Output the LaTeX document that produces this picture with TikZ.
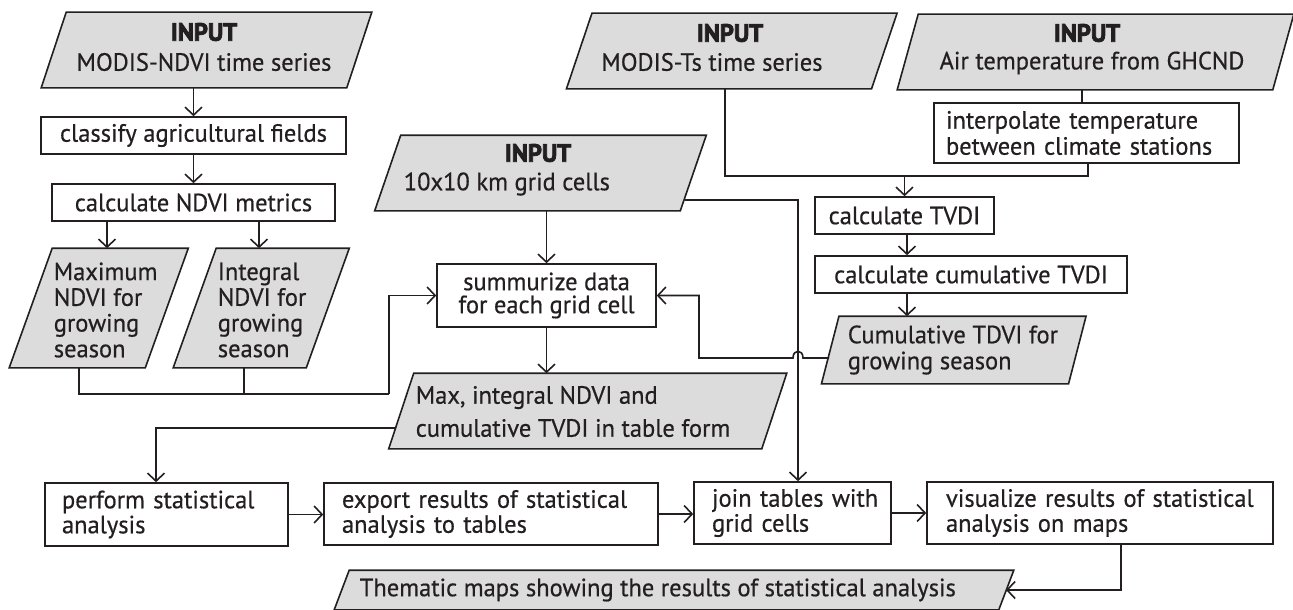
\documentclass[tikz,border=0pt]{standalone}
\usepackage{fontspec}
\setmainfont{PT Sans}[FakeStretch=0.98, UprightFeatures={FakeBold=0.5}, BoldFeatures={FakeBold=3}]
\usetikzlibrary{arrows.meta,calc}
\definecolor{inkc}{HTML}{231F20}
\definecolor{parafill}{HTML}{DCDCDC}
\newcommand\drawpara[2]{\path[para] ([xshift=#2]#1.north west) -- ([xshift=#2]#1.north east) -- ([xshift=-#2]#1.south east) -- ([xshift=-#2]#1.south west) -- cycle;}
\tikzset{
 rbox/.style={draw, fill=white, inner sep=0pt, line width=1.6pt},
 pbody/.style={inner sep=0pt, draw=none},
 para/.style={fill=parafill, draw, line width=1.6pt, line join=miter},
 lbl/.style={inner sep=0pt, align=left, anchor=west},
 clbl/.style={inner sep=0pt, align=center},
 ttl/.style={inner sep=0pt, font=\fontsize{25}{25}\selectfont\bfseries},
 arr/.style={-{Straight Barb[length=8pt,width=17pt]}},
}
\begin{document}
\begin{tikzpicture}[x=1pt,y=-1pt,line width=1.6pt,color=inkc,font=\fontsize{25}{25}\selectfont]
\useasboundingbox (0,0) rectangle (1293,610);
% parallelogram bodies
\node[pbody, minimum width=304pt, minimum height=74pt] (ndvi) at (206.5,50) {};
\node[pbody, minimum width=134.5pt, minimum height=118pt] (maxndvi) at (98.75,308) {};
\node[pbody, minimum width=131.5pt, minimum height=118pt] (intndvi) at (261.25,308) {};
\node[pbody, minimum width=304pt, minimum height=74pt] (grid) at (540.5,173) {};
\node[pbody, minimum width=303.5pt, minimum height=74pt] (tsin) at (731.75,51) {};
\node[pbody, minimum width=374pt, minimum height=74pt] (airin) at (1095.5,52) {};
\node[pbody, minimum width=245.5pt, minimum height=66pt] (cumpara) at (953.75,350) {};
\node[pbody, minimum width=371.5pt, minimum height=74pt] (maxint) at (587.75,411) {};
\node[pbody, minimum width=663pt, minimum height=38pt] (thematic) at (674,590) {};
\drawpara{ndvi}{12.5pt}
\drawpara{maxndvi}{21.5pt}
\drawpara{intndvi}{21.5pt}
\drawpara{grid}{13pt}
\drawpara{tsin}{12.75pt}
\drawpara{airin}{10.5pt}
\drawpara{cumpara}{8.75pt}
\drawpara{maxint}{12.5pt}
\drawpara{thematic}{7.5pt}
% parallelogram texts
\node[ttl] (ndviA) at (204,32) {INPUT};
\node[clbl] (ndviB) at (204,62) {MODIS-NDVI time series};
\node[ttl] (tsinA) at (730,33) {INPUT};
\node[clbl] (tsinB) at (712,62) {MODIS-Ts time series};
\node[ttl] (airinA) at (1087,33) {INPUT};
\node[clbl] (airinB) at (1092,63) {Air temperature from GHCND};
\node[ttl] (gridA) at (538,153) {INPUT};
\node[lbl] (gridB) at (403,184) {10x10 km grid cells};
\node[lbl, font=\fontsize{25}{25.7}\selectfont] (maxndviT) at (53,310) {Maximum\\NDVI for\\growing\\season};
\node[lbl, font=\fontsize{25}{25.7}\selectfont] (intndviT) at (217,310) {Integral\\NDVI for\\growing\\season};
\node[lbl, font=\fontsize{25}{26}\selectfont] (cumparaT) at (847,350) {Cumulative TDVI for\\growing season};
\node[lbl, font=\fontsize{25}{33}\selectfont] (maxintT) at (415,411.5) {Max, integral NDVI and\\cumulative TVDI in table form};
\node[lbl] (thematicT) at (359,590) {Thematic maps showing the results of statistical analysis};
% boxes
\node[rbox, minimum width=305pt, minimum height=37pt] (classify) at (193.5,135.5) {classify agricultural fields};
\node[rbox, minimum width=283pt, minimum height=37pt] (metrics) at (193.5,202.5) {calculate NDVI metrics};
\node[rbox, minimum width=219pt, minimum height=63pt, align=center, font=\fontsize{25}{23}\selectfont] (summ) at (546.5,295.5) {summurize data\\for each grid cell};
\node[rbox, text width=281pt, inner xsep=12pt, minimum height=60pt, align=left, font=\fontsize{25}{26}\selectfont] (interp) at (1086.5,133) {\mbox{interpolate temperature}\\\mbox{between climate stations}};
\node[rbox, minimum width=179pt, minimum height=37pt] (tvdi) at (904.5,215.5) {calculate TVDI};
\node[rbox, minimum width=312pt, minimum height=37pt] (cumtvdi) at (971,274.5) {calculate cumulative TVDI};
\node[rbox, text width=209pt, inner xsep=17pt, minimum height=63pt, align=left] (perform) at (166.5,514.5) {\mbox{perform statistical}\\\mbox{analysis}};
\node[rbox, text width=298pt, inner xsep=18pt, minimum height=62pt, align=left] (export) at (491,514) {\mbox{export results of statistical}\\\mbox{analysis to tables}};
\node[rbox, text width=161pt, inner xsep=18pt, minimum height=62pt, align=left] (join) at (792.5,513) {\mbox{join tables with}\\\mbox{grid cells}};
\node[rbox, text width=308pt, inner xsep=19pt, minimum height=62pt, align=left] (visual) at (1100,513) {\mbox{visualize results of statistical}\\\mbox{analysis on maps}};
% helper coordinates
\coordinate (xA) at (107,0);
\coordinate (xB) at (259,0);
\coordinate (xC) at (79,0);
\coordinate (xD) at (244,0);
\coordinate (jL) at (389,394);
\coordinate (gR) at (685,200);
\coordinate (xJ) at (798,0);
\coordinate (cL) at (829,358);
\coordinate (hopR) at (803,358);
\coordinate (hopL) at (793,358);
\coordinate (cK) at (699,358);
\coordinate (mL) at (396,428);
\coordinate (xP) at (156,0);
\coordinate (xV) at (1121,0);
\coordinate (tR) at (1006,590);
\coordinate (xT) at (725,0);
\coordinate (jT) at (1088,176);
\coordinate (xAir) at (1082,0);
\coordinate (xTv) at (907,0);
% connectors
\draw[arr] (classify.north |- ndvi.south) -- (classify.north);
\draw[arr] (classify.south) -- (metrics.north);
\draw[arr] (metrics.south -| xA) -- (maxndvi.north -| xA);
\draw[arr] (metrics.south -| xB) -- (intndvi.north -| xB);
\draw (maxndvi.south -| xC) |- (jL);
\draw (intndvi.south -| xD) -- (xD |- jL);
\draw[arr] (jL) |- (summ.west);
\draw[arr] (summ.north |- grid.south) -- (summ.north);
\draw[arr] (summ.south) -- (summ.south |- maxint.north);
\draw[arr] (gR) -| (join.north -| xJ);
\draw[arr] (cL) -- (hopR) .. controls ($(hopR)+(0,-9)$) and ($(hopL)+(0,-9)$) .. (hopL) -- (cK) |- (summ.east);
\draw[arr] (mL) -| (perform.north -| xP);
\draw[arr] (perform.east) -- (perform.east -| export.west);
\draw[arr] (export.east) -- (export.east -| join.west);
\draw[arr] (join.east) -- (visual.west);
\draw[arr] (visual.south -| xV) |- (tR);
\draw (tsin.south -| xT) |- (jT) -- (jT |- interp.south);
\draw[arr] (tvdi.north |- jT) -- (tvdi.north);
\draw (airin.south -| xAir) -- (interp.north -| xAir);
\draw[arr] (tvdi.south -| xTv) -- (cumtvdi.north -| xTv);
\draw[arr] (cumtvdi.south -| xTv) -- (cumpara.north -| xTv);
\end{tikzpicture}
\end{document}
